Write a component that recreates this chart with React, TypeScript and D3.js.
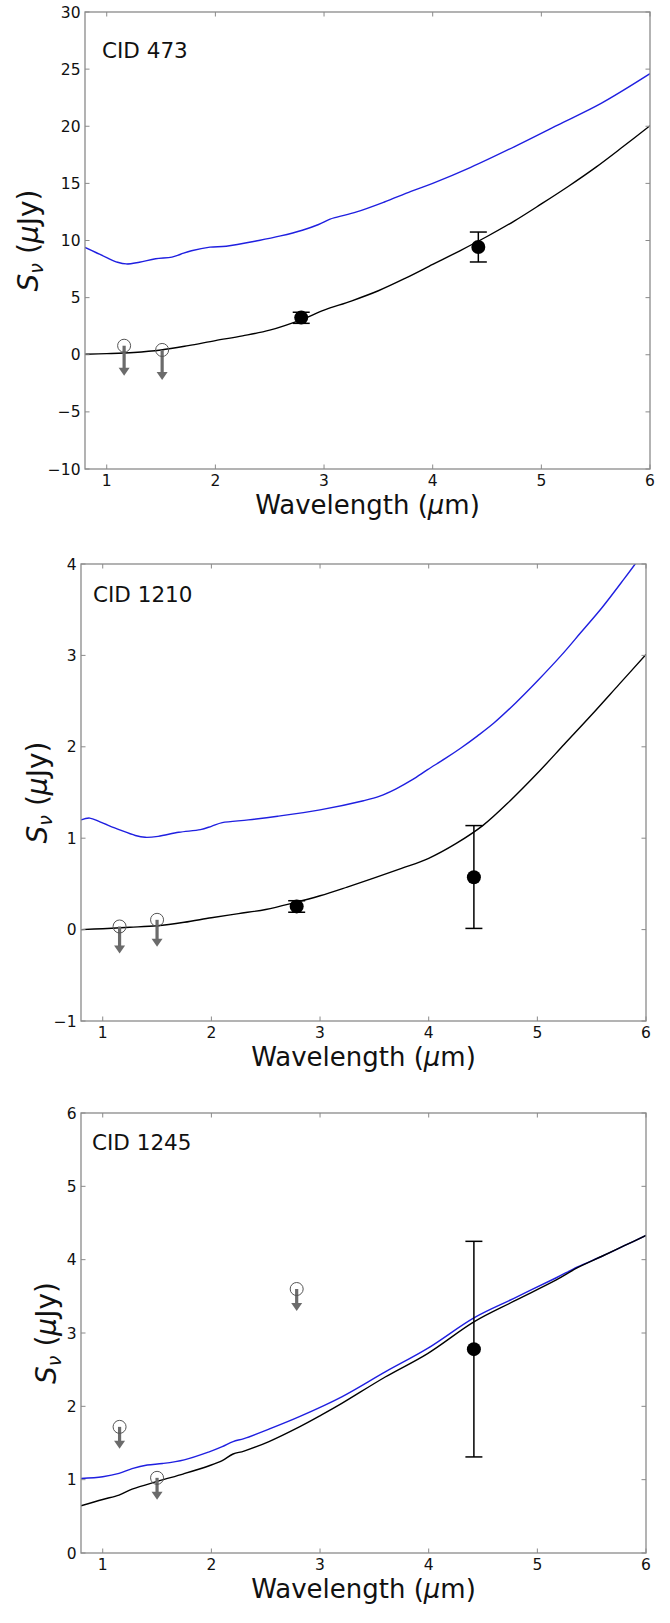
import React from 'react';
import * as d3 from 'd3';

// ---------- shared axis data ----------
const X_DOMAIN: [number, number] = [0.8, 6];
const X_TICKS = [1, 2, 3, 4, 5, 6];

// ---------- CID 473 ----------
const CID473_BLUE_X = [0.8, 0.9, 1.0, 1.1, 1.18, 1.3, 1.45, 1.6, 1.68, 1.78, 1.95, 2.1, 2.4, 2.6, 2.8, 2.95, 3.05, 3.12, 3.3, 3.55, 3.8, 4.0, 4.35, 4.75, 5.15, 5.55, 6.0];
const CID473_BLUE_Y = [9.4, 8.95, 8.5, 8.1, 7.95, 8.1, 8.4, 8.55, 8.8, 9.1, 9.42, 9.5, 10.0, 10.4, 10.9, 11.4, 11.85, 12.05, 12.5, 13.35, 14.3, 15.0, 16.4, 18.2, 20.1, 22.0, 24.6];
const CID473_BLACK_X = [0.8, 1.0, 1.25, 1.5, 1.75, 2.0, 2.25, 2.5, 2.8, 3.0, 3.25, 3.5, 3.75, 4.0, 4.25, 4.5, 4.75, 5.0, 5.25, 5.5, 5.75, 6.0];
const CID473_BLACK_Y = [0.05, 0.1, 0.2, 0.42, 0.8, 1.24, 1.65, 2.15, 3.1, 3.9, 4.7, 5.6, 6.7, 7.9, 9.1, 10.35, 11.7, 13.2, 14.75, 16.4, 18.2, 20.05];
const CID473_DET_X = [2.79, 4.42];
const CID473_DET_Y = [3.25, 9.43];
const CID473_DET_LO = [2.75, 8.12];
const CID473_DET_HI = [3.72, 10.74];
const CID473_UL_X = [1.16, 1.51];
const CID473_UL_Y = [0.79, 0.42];
const CID473_Y_TICKS = [-10, -5, 0, 5, 10, 15, 20, 25, 30];

// ---------- CID 1210 ----------
const CID1210_BLUE_X = [0.8, 0.88, 0.98, 1.15, 1.3, 1.39, 1.51, 1.7, 1.9, 2.0, 2.1, 2.34, 2.61, 3.0, 3.4, 3.55, 3.7, 3.85, 3.99, 4.15, 4.3, 4.45, 4.6, 4.8, 5.0, 5.22, 5.4, 5.6, 5.8, 5.9, 6.0];
const CID1210_BLUE_Y = [1.2, 1.22, 1.175, 1.094, 1.03, 1.01, 1.02, 1.065, 1.094, 1.13, 1.17, 1.2, 1.24, 1.31, 1.41, 1.46, 1.54, 1.64, 1.75, 1.87, 1.99, 2.12, 2.26, 2.48, 2.72, 3.0, 3.25, 3.53, 3.84, 4.0, 4.17];
const CID1210_BLACK_X = [0.8, 1.0, 1.25, 1.5, 1.75, 2.0, 2.25, 2.5, 2.75, 3.0, 3.25, 3.5, 3.75, 4.0, 4.25, 4.5, 4.75, 5.0, 5.25, 5.5, 5.75, 6.0];
const CID1210_BLACK_Y = [0.0, 0.01, 0.025, 0.042, 0.08, 0.13, 0.175, 0.22, 0.29, 0.37, 0.465, 0.565, 0.67, 0.78, 0.94, 1.14, 1.41, 1.71, 2.03, 2.35, 2.68, 3.01];
const CID1210_DET_X = [2.785, 4.416];
const CID1210_DET_Y = [0.254, 0.572];
const CID1210_DET_LO = [0.19, 0.013];
const CID1210_DET_HI = [0.316, 1.138];
const CID1210_UL_X = [1.155, 1.5];
const CID1210_UL_Y = [0.034, 0.107];
const CID1210_Y_TICKS = [-1, 0, 1, 2, 3, 4];

// ---------- CID 1245 ----------
const CID1245_BLUE_X = [0.8, 1.0, 1.15, 1.27, 1.41, 1.55, 1.75, 1.98, 2.1, 2.2, 2.3, 2.53, 2.81, 3.2, 3.6, 3.99, 4.42, 4.78, 5.17, 5.37, 5.6, 5.8, 6.0];
const CID1245_BLUE_Y = [1.016, 1.04, 1.085, 1.15, 1.2, 1.22, 1.27, 1.38, 1.45, 1.52, 1.56, 1.69, 1.86, 2.13, 2.47, 2.79, 3.21, 3.47, 3.75, 3.9, 4.05, 4.19, 4.33];
const CID1245_BLACK_X = [0.8, 1.0, 1.15, 1.27, 1.51, 1.745, 1.98, 2.1, 2.2, 2.3, 2.53, 2.81, 3.01, 3.2, 3.6, 3.99, 4.42, 4.78, 5.17, 5.37, 5.6, 5.8, 6.0];
const CID1245_BLACK_Y = [0.643, 0.73, 0.79, 0.87, 0.98, 1.08, 1.19, 1.26, 1.35, 1.39, 1.52, 1.72, 1.88, 2.04, 2.4, 2.72, 3.155, 3.43, 3.72, 3.89, 4.05, 4.19, 4.33];
const CID1245_DET_X = [4.416];
const CID1245_DET_Y = [2.78];
const CID1245_DET_LO = [1.31];
const CID1245_DET_HI = [4.25];
const CID1245_UL_X = [1.155, 1.5, 2.785];
const CID1245_UL_Y = [1.72, 1.025, 3.6];
const CID1245_Y_TICKS = [0, 1, 2, 3, 4, 5, 6];

const zip = (xs: number[], ys: number[]) => xs.map((x, i) => [x, ys[i]] as [number, number]);

const PANELS = [
  {
    name: 'CID 473',
    yDomain: [-10, 30] as [number, number],
    yTicks: CID473_Y_TICKS,
    blue: zip(CID473_BLUE_X, CID473_BLUE_Y),
    black: zip(CID473_BLACK_X, CID473_BLACK_Y),
    det: CID473_DET_X.map((x, i) => ({ x, y: CID473_DET_Y[i], lo: CID473_DET_LO[i], hi: CID473_DET_HI[i] })),
    ul: zip(CID473_UL_X, CID473_UL_Y),
    box: { left: 85, right: 650, top: 12, bottom: 469 },
    nameDx: 17, nameDy: 46, ylabX: 38, arrowLen: 30,
  },
  {
    name: 'CID 1210',
    yDomain: [-1, 4] as [number, number],
    yTicks: CID1210_Y_TICKS,
    blue: zip(CID1210_BLUE_X, CID1210_BLUE_Y),
    black: zip(CID1210_BLACK_X, CID1210_BLACK_Y),
    det: CID1210_DET_X.map((x, i) => ({ x, y: CID1210_DET_Y[i], lo: CID1210_DET_LO[i], hi: CID1210_DET_HI[i] })),
    ul: zip(CID1210_UL_X, CID1210_UL_Y),
    box: { left: 81, right: 646, top: 564, bottom: 1021 },
    nameDx: 12, nameDy: 38, ylabX: 47, arrowLen: 27,
  },
  {
    name: 'CID 1245',
    yDomain: [0, 6] as [number, number],
    yTicks: CID1245_Y_TICKS,
    blue: zip(CID1245_BLUE_X, CID1245_BLUE_Y),
    black: zip(CID1245_BLACK_X, CID1245_BLACK_Y),
    det: CID1245_DET_X.map((x, i) => ({ x, y: CID1245_DET_Y[i], lo: CID1245_DET_LO[i], hi: CID1245_DET_HI[i] })),
    ul: zip(CID1245_UL_X, CID1245_UL_Y),
    box: { left: 81, right: 646, top: 1113, bottom: 1553 },
    nameDx: 11, nameDy: 37, ylabX: 56, arrowLen: 22,
  },
];

const FONT = "'DejaVu Sans', 'Liberation Sans', sans-serif";
const AXIS_COLOR = '#8a8a8a';
const UL_COLOR = '#6b6b6b';
const fmt = d3.format('d');

function Panel({ p, idx }: { p: typeof PANELS[number]; idx: number }) {
  const { left, right, top, bottom } = p.box;
  const x = d3.scaleLinear().domain(X_DOMAIN).range([left, right]);
  const y = d3.scaleLinear().domain(p.yDomain).range([bottom, top]);
  const line = d3
    .line<[number, number]>()
    .x((d) => x(d[0]))
    .y((d) => y(d[1]))
    .curve(d3.curveCatmullRom.alpha(0.5));
  const clipId = `clip-${idx}`;
  const tickLen = 4.5;
  const cy = (top + bottom) / 2;
  const cx = (left + right) / 2;
  return (
    <g>
      <defs>
        <clipPath id={clipId}>
          <rect x={left} y={top} width={right - left} height={bottom - top} />
        </clipPath>
      </defs>
      <g clipPath={`url(#${clipId})`}>
        <path d={line(p.blue) || ''} fill="none" stroke="#1f1fe0" strokeWidth={1.4} />
        <path d={line(p.black) || ''} fill="none" stroke="#000" strokeWidth={1.4} />
      </g>
      {/* upper limits */}
      {p.ul.map((d, i) => {
        const px = x(d[0]);
        const py = y(d[1]);
        const tip = py + p.arrowLen;
        const hl = 8;
        return (
          <g key={`ul${i}`}>
            <rect x={px - 1.6} y={py} width={3.2} height={p.arrowLen - hl + 1} fill={UL_COLOR} />
            <path d={`M${px - 5.5},${tip - hl} L${px + 5.5},${tip - hl} L${px},${tip} Z`} fill={UL_COLOR} />
            <circle cx={px} cy={py} r={6.5} fill="none" stroke="#555" strokeWidth={1} />
          </g>
        );
      })}
      {/* detections */}
      {p.det.map((d, i) => {
        const px = x(d.x);
        return (
          <g key={`det${i}`} stroke="#000" strokeWidth={1.5}>
            <line x1={px} x2={px} y1={y(d.lo)} y2={y(d.hi)} />
            <line x1={px - 8.5} x2={px + 8.5} y1={y(d.lo)} y2={y(d.lo)} />
            <line x1={px - 8.5} x2={px + 8.5} y1={y(d.hi)} y2={y(d.hi)} />
            <circle cx={px} cy={y(d.y)} r={7} fill="#000" stroke="none" />
          </g>
        );
      })}
      {/* frame */}
      <rect x={left} y={top} width={right - left} height={bottom - top} fill="none" stroke={AXIS_COLOR} strokeWidth={1.3} />
      {/* x ticks */}
      {X_TICKS.map((t) => (
        <g key={`xt${t}`}>
          <line x1={x(t)} x2={x(t)} y1={bottom} y2={bottom - tickLen} stroke={AXIS_COLOR} strokeWidth={1} />
          <line x1={x(t)} x2={x(t)} y1={top} y2={top + tickLen} stroke={AXIS_COLOR} strokeWidth={1} />
          <text x={x(t)} y={bottom + 16.5} textAnchor="middle" fontFamily={FONT} fontSize={15.5} fill="#111">
            {fmt(t)}
          </text>
        </g>
      ))}
      {/* y ticks */}
      {p.yTicks.map((t) => (
        <g key={`yt${t}`}>
          <line x1={left} x2={left + tickLen} y1={y(t)} y2={y(t)} stroke={AXIS_COLOR} strokeWidth={1} />
          <line x1={right} x2={right - tickLen} y1={y(t)} y2={y(t)} stroke={AXIS_COLOR} strokeWidth={1} />
          <text x={left - 4.5} y={y(t)} dy="0.36em" textAnchor="end" fontFamily={FONT} fontSize={15.5} fill="#111">
            {fmt(t)}
          </text>
        </g>
      ))}
      {/* labels */}
      <text x={left + p.nameDx} y={top + p.nameDy} fontFamily={FONT} fontSize={21.5} fill="#111">
        {p.name}
      </text>
      <text x={cx} y={bottom + 44.5} textAnchor="middle" fontFamily={FONT} fontSize={26} fill="#111">
        Wavelength (<tspan fontStyle="italic">μ</tspan>m)
      </text>
      <text
        transform={`translate(${p.ylabX},${cy}) rotate(-90)`}
        textAnchor="middle"
        fontFamily={FONT}
        fontSize={28}
        fill="#111"
      >
        <tspan fontStyle="italic">S</tspan>
        <tspan fontStyle="italic" fontSize={19} dy={5}>ν</tspan>
        <tspan dy={-5}> (</tspan>
        <tspan fontStyle="italic">μ</tspan>
        <tspan>Jy)</tspan>
      </text>
    </g>
  );
}

export default function App() {
  return (
    <svg
      width={670}
      height={1623}
      viewBox="0 0 670 1623"
      style={{ position: 'absolute', left: 0, top: 0, background: '#fff' }}
    >
      <rect x={0} y={0} width={670} height={1623} fill="#fff" />
      {PANELS.map((p, i) => (
        <Panel key={p.name} p={p} idx={i} />
      ))}
    </svg>
  );
}
